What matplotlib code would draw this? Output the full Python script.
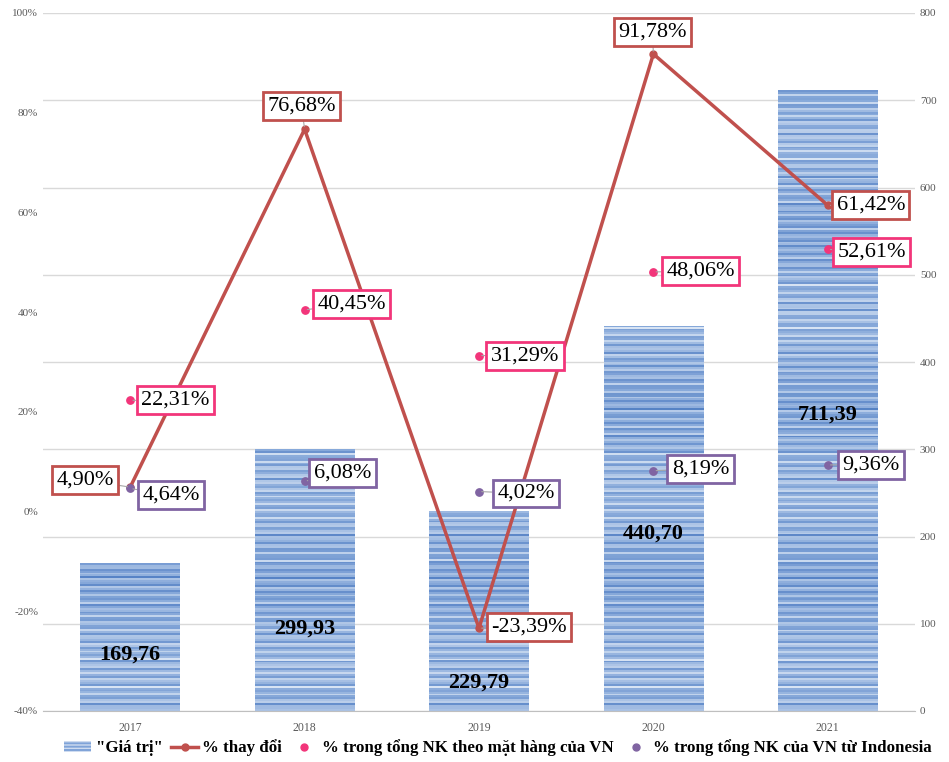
import numpy as np
import matplotlib
matplotlib.use("Agg")
import matplotlib.pyplot as plt
from matplotlib.patches import Patch
from matplotlib.lines import Line2D
from matplotlib.colors import LinearSegmentedColormap

plt.rcParams['font.family'] = ['Liberation Serif', 'DejaVu Serif']

years = ["2017", "2018", "2019", "2020", "2021"]
gia_tri = [169.76, 299.93, 229.79, 440.70, 711.39]
pct_change = [4.90, 76.68, -23.39, 91.78, 61.42]
pct_mat_hang = [22.31, 40.45, 31.29, 48.06, 52.61]
pct_indonesia = [4.64, 6.08, 4.02, 8.19, 9.36]

left_ticks = [-40, -20, 0, 20, 40, 60, 80, 100]
right_ticks = [0, 100, 200, 300, 400, 500, 600, 700, 800]

RED = "#c0504d"
PINK = "#f2357a"
PURPLE = "#8064a2"
GRID = "#d9d9d9"
TICK = "#595959"


def fmt(v, suffix=""):
    return f"{v:.2f}".replace(".", ",") + suffix


fig = plt.figure(figsize=(9.49, 7.62), dpi=100)
ax = fig.add_axes([43 / 949, 1 - 711 / 762, (915 - 43) / 949, (711 - 13) / 762])
ax2 = ax.twinx()

x = np.arange(len(years))
bar_w = 0.57

# value axis (bars) on the right, percentage axis on the left
ax.set_ylim(0, 800)
ax.set_xlim(-0.5, len(years) - 0.5)
ax.yaxis.tick_right()
ax.set_yticks(right_ticks)
ax.grid(axis="y", color=GRID, linewidth=1)
ax.set_axisbelow(True)

bars = ax.bar(x, gia_tri, width=bar_w, color="#8eaedd", linewidth=0, zorder=2)

# horizontal stripe texture inside each bar
stripe_cmap = LinearSegmentedColormap.from_list("stripes", ["#4e7cc2", "#8aabdb", "#d8e4f4"])
rows = np.arange(360)
shade = (0.55 + 0.26 * np.sin(rows * 1.73) + 0.18 * np.sin(rows * 0.29 + 1.0)
         * np.cos(rows * 2.9) + 0.08 * np.sin(rows * 0.07))
shade = np.clip(shade, 0, 1)
for rect in bars:
    x0 = rect.get_x()
    im = ax.imshow(shade[:, None], cmap=stripe_cmap, vmin=0, vmax=1, aspect="auto",
                   extent=(x0, x0 + rect.get_width(), 0, 800), interpolation="nearest",
                   origin="lower", zorder=2.5)
    im.set_clip_path(rect)
ax.set_xlim(-0.5, len(years) - 0.5)
ax.set_ylim(0, 800)

bar_label_y = [65, 95, 33, 203, 340]
for xi, v, ly in zip(x, gia_tri, bar_label_y):
    ax.text(xi, ly, fmt(v), ha="center", va="center", fontsize=16,
            fontweight="bold", color="black", zorder=4)

ax2.set_ylim(-40, 100)
ax2.yaxis.tick_left()
ax2.set_yticks(left_ticks)
ax2.set_yticklabels([f"{t}%" for t in left_ticks])

for a in (ax, ax2):
    for s in ("top", "left", "right"):
        a.spines[s].set_visible(False)
    a.tick_params(axis="both", length=0, labelsize=8, labelcolor=TICK)
ax.spines["bottom"].set_color("#bfbfbf")
ax2.spines["bottom"].set_visible(False)
ax.set_xticks(x)
ax.set_xticklabels(years)
ax.tick_params(axis="x", pad=8, labelsize=8.5)

ax2.plot(x, pct_change, color=RED, linewidth=2.5, marker="o", markersize=5, zorder=5)
ax2.scatter(x, pct_mat_hang, color=PINK, s=28, zorder=5)
ax2.scatter(x, pct_indonesia, color=PURPLE, s=28, zorder=5)

change_off = [(-45, 7), (-3, 23), (50, 1), (-1, 22), (43, 0)]
mat_hang_off = [(45, 0), (47, 6), (46, 0), (47, 1), (44, -3)]
indo_off = [(41, -7), (38, 8), (47, -2), (47, 2), (43, 0)]


def boxed(values, offsets, color):
    for xi, v, (dx, dy) in zip(x, values, offsets):
        ax2.annotate(fmt(v, "%"), xy=(xi, v), xytext=(dx, dy),
                     textcoords="offset pixels", ha="center", va="center",
                     fontsize=16, color="black", zorder=6,
                     bbox=dict(boxstyle="square,pad=0.2", fc="white", ec=color, lw=2),
                     arrowprops=dict(arrowstyle="-", color="#a6a6a6", lw=0.8,
                                     shrinkA=0, shrinkB=2))


boxed(pct_change, change_off, RED)
boxed(pct_mat_hang, mat_hang_off, PINK)
boxed(pct_indonesia, indo_off, PURPLE)

handles = [
    Patch(facecolor="#7fa3d8", edgecolor="#cfdcf0", hatch="-----", linewidth=0),
    Line2D([0], [0], color=RED, linewidth=2.5, marker="o", markersize=5),
    Line2D([0], [0], color=PINK, linestyle="none", marker="o", markersize=5),
    Line2D([0], [0], color=PURPLE, linestyle="none", marker="o", markersize=5),
]
labels = ['"Giá trị"', "% thay đổi", "% trong tổng NK theo mặt hàng của VN",
          "% trong tổng NK của VN từ Indonesia"]
fig.legend(handles, labels, loc="center", bbox_to_anchor=(0.525, 1 - 748 / 762), ncol=4,
           frameon=False, prop=dict(weight="bold", size=12.2), handlelength=1.6,
           handletextpad=0.25, columnspacing=0.5, borderpad=0)

fig.savefig("out.png", dpi=100)
